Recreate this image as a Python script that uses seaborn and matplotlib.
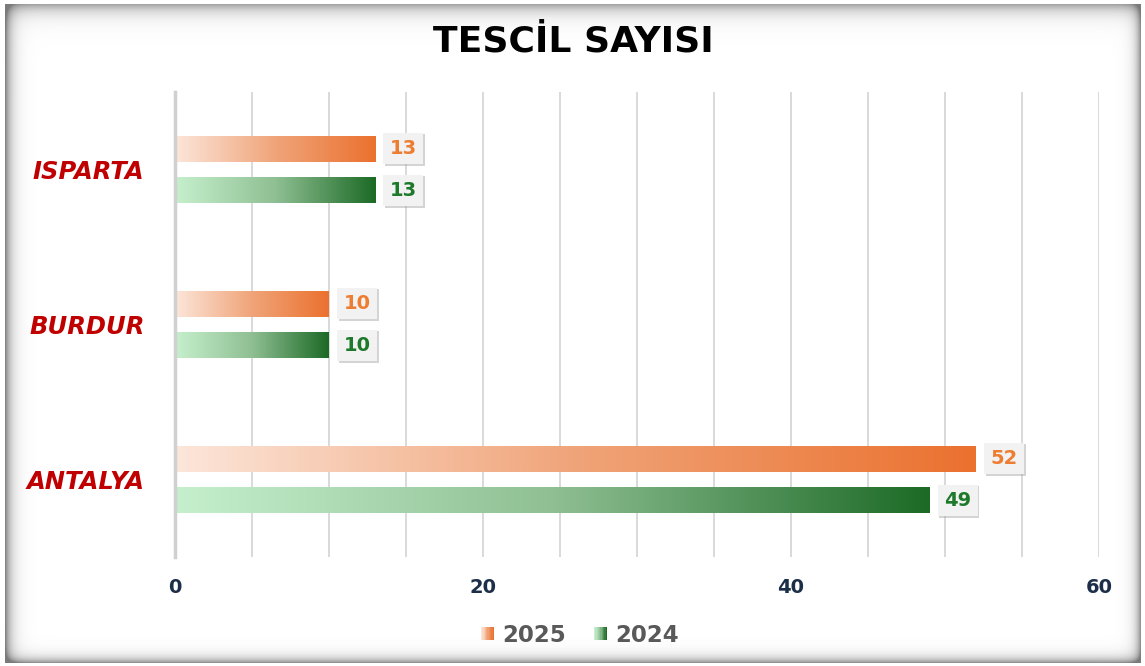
import numpy as np
import pandas as pd
import matplotlib
matplotlib.use("Agg")
import matplotlib.pyplot as plt
import seaborn as sns
from matplotlib.colors import LinearSegmentedColormap
from matplotlib.patches import Rectangle
from matplotlib.legend_handler import HandlerBase
from matplotlib.ticker import MultipleLocator
import matplotlib.patheffects as pe

# ---- data ----
regions = ["ISPARTA", "BURDUR", "ANTALYA"]
years = ["2025", "2024"]
values_2025 = [13, 10, 52]
values_2024 = [13, 10, 49]
x_ticks = [0, 20, 40, 60]
title = "TESCİL SAYISI"

df = pd.DataFrame({
    "region": regions * 2,
    "year": ["2025"] * len(regions) + ["2024"] * len(regions),
    "value": values_2025 + values_2024,
})

# ---- styles ----
sns.set_theme(style="white")
plt.rcParams["font.family"] = ["DejaVu Sans"]

orange_cmap = LinearSegmentedColormap.from_list("o", ["#fce6da", "#f0a479", "#eb712f"])
green_cmap = LinearSegmentedColormap.from_list("g", ["#c6f0cd", "#8fbf93", "#1c6a26"])
cmaps = {"2025": orange_cmap, "2024": green_cmap}
text_colors = {"2025": "#ed7d31", "2024": "#1e7a2a"}

W, H = 1145, 666
fig = plt.figure(figsize=(W / 100, H / 100), dpi=100)
fig.patch.set_facecolor("white")

# inner-shadow frame (decoration)
bg = fig.add_axes([0, 0, 1, 1], zorder=20)
bg.set_axis_off()
yy, xx = np.mgrid[0:H, 0:W].astype(float)
L, R, T, B = 5.0, 1140.0, 4.0, 662.0
inside = (xx >= L) & (xx <= R) & (yy >= T) & (yy <= B)
dl, dr, dt, db = xx - L, R - xx, yy - T, B - yy
alpha = (0.75 * np.exp(-np.clip(dl, 0, None) / 6.0) +
         0.65 * np.exp(-np.clip(dr, 0, None) / 5.0) +
         0.55 * np.exp(-np.clip(dt, 0, None) / 8.0) +
         0.65 * np.exp(-np.clip(db, 0, None) / 5.0))
alpha = np.clip(alpha, 0, 0.8)
alpha[~inside] = 0.0
rgba = np.zeros((H, W, 4))
rgba[..., :3] = 0.35
rgba[..., 3] = alpha
bg.imshow(rgba, extent=(0, W, H, 0), aspect="auto", interpolation="nearest")
bg.set_xlim(0, W)
bg.set_ylim(H, 0)

ax = fig.add_axes([175 / W, 1 - 557 / H, (1099 - 175) / W, (557 - 92) / H])

sns.barplot(data=df, x="value", y="region", hue="year", hue_order=years,
            order=regions, orient="h", width=0.54, gap=0.38, ax=ax,
            palette=["#ed7d31", "#1e6b25"], legend=False)

ax.set_xlim(0, 60)
ax.set_ylim(2.5, -0.5)

grad = np.linspace(0, 1, 256).reshape(1, -1)
for container, yr in zip(ax.containers, years):
    for bar in container:
        x0, y0 = bar.get_x(), bar.get_y()
        w, h = bar.get_width(), bar.get_height()
        ax.imshow(grad, cmap=cmaps[yr], aspect="auto", extent=(x0, x0 + w, y0 + h, y0),
                  zorder=2, interpolation="bicubic")
        bar.set_facecolor("none")
        bar.set_edgecolor("none")
        t = ax.annotate(f"{int(w)}", xy=(x0 + w, y0 + h / 2), xytext=(10.5, 0),
                        textcoords="offset points", ha="left", va="center",
                        fontsize=14, fontweight="bold", color=text_colors[yr],
                        zorder=5,
                        bbox=dict(boxstyle="square,pad=0.33", facecolor="#f2f2f2",
                                  edgecolor="none"))
        t.get_bbox_patch().set_path_effects([
            pe.SimplePatchShadow(offset=(1.2, -1.2), shadow_rgbFace="#aaaaaa", alpha=0.5),
            pe.Normal()])

ax.set_xlim(0, 60)
ax.set_ylim(2.5, -0.5)

ax.xaxis.set_major_locator(MultipleLocator(20))
ax.xaxis.set_minor_locator(MultipleLocator(5))
ax.grid(True, axis="x", which="both", color="#d9d9d9", linewidth=1.4, zorder=0)
ax.set_axisbelow(True)
for s in ["top", "right", "bottom"]:
    ax.spines[s].set_visible(False)
ax.spines["left"].set_color("#d0d0d0")
ax.spines["left"].set_linewidth(2.5)
ax.set_xticks(x_ticks)
ax.set_xticklabels([str(v) for v in x_ticks])
ax.tick_params(axis="x", which="both", length=0, pad=15, labelsize=14, labelcolor="#1c2e48")
ax.tick_params(axis="y", length=0, pad=22)
for lab in ax.get_xticklabels():
    lab.set_fontweight("bold")
for lab in ax.get_yticklabels():
    lab.set_fontweight("bold")
    lab.set_fontstyle("italic")
    lab.set_color("#c00000")
    lab.set_fontsize(17.5)
ax.set_xlabel("")
ax.set_ylabel("")

fig.text(573 / W, 1 - 42 / H, title, ha="center", va="center",
         fontsize=26, fontweight="bold", color="black")


class GradientHandler(HandlerBase):
    def __init__(self, cmap):
        super().__init__()
        self.cmap = cmap

    def create_artists(self, legend, orig_handle, xdescent, ydescent, width, height, fontsize, trans):
        n = 10
        size = height * 0.8
        x_start = width - size
        y_start = (height - size) / 2
        arts = []
        for i in range(n):
            r = Rectangle((x_start + i * size / n - xdescent, y_start - ydescent),
                          size / n + 0.2, size, facecolor=self.cmap(i / (n - 1)),
                          edgecolor="none", transform=trans)
            arts.append(r)
        return arts


h1 = Rectangle((0, 0), 1, 1)
h2 = Rectangle((0, 0), 1, 1)
leg = fig.legend([h1, h2], years, loc="center", bbox_to_anchor=(577 / W, 1 - 635 / H),
                 ncol=2, frameon=False, fontsize=16.5, handlelength=0.8, handletextpad=0.35,
                 columnspacing=1.0,
                 handler_map={h1: GradientHandler(orange_cmap), h2: GradientHandler(green_cmap)})
for t in leg.get_texts():
    t.set_color("#595959")
    t.set_fontweight("bold")

fig.savefig("out.png", dpi=100)
